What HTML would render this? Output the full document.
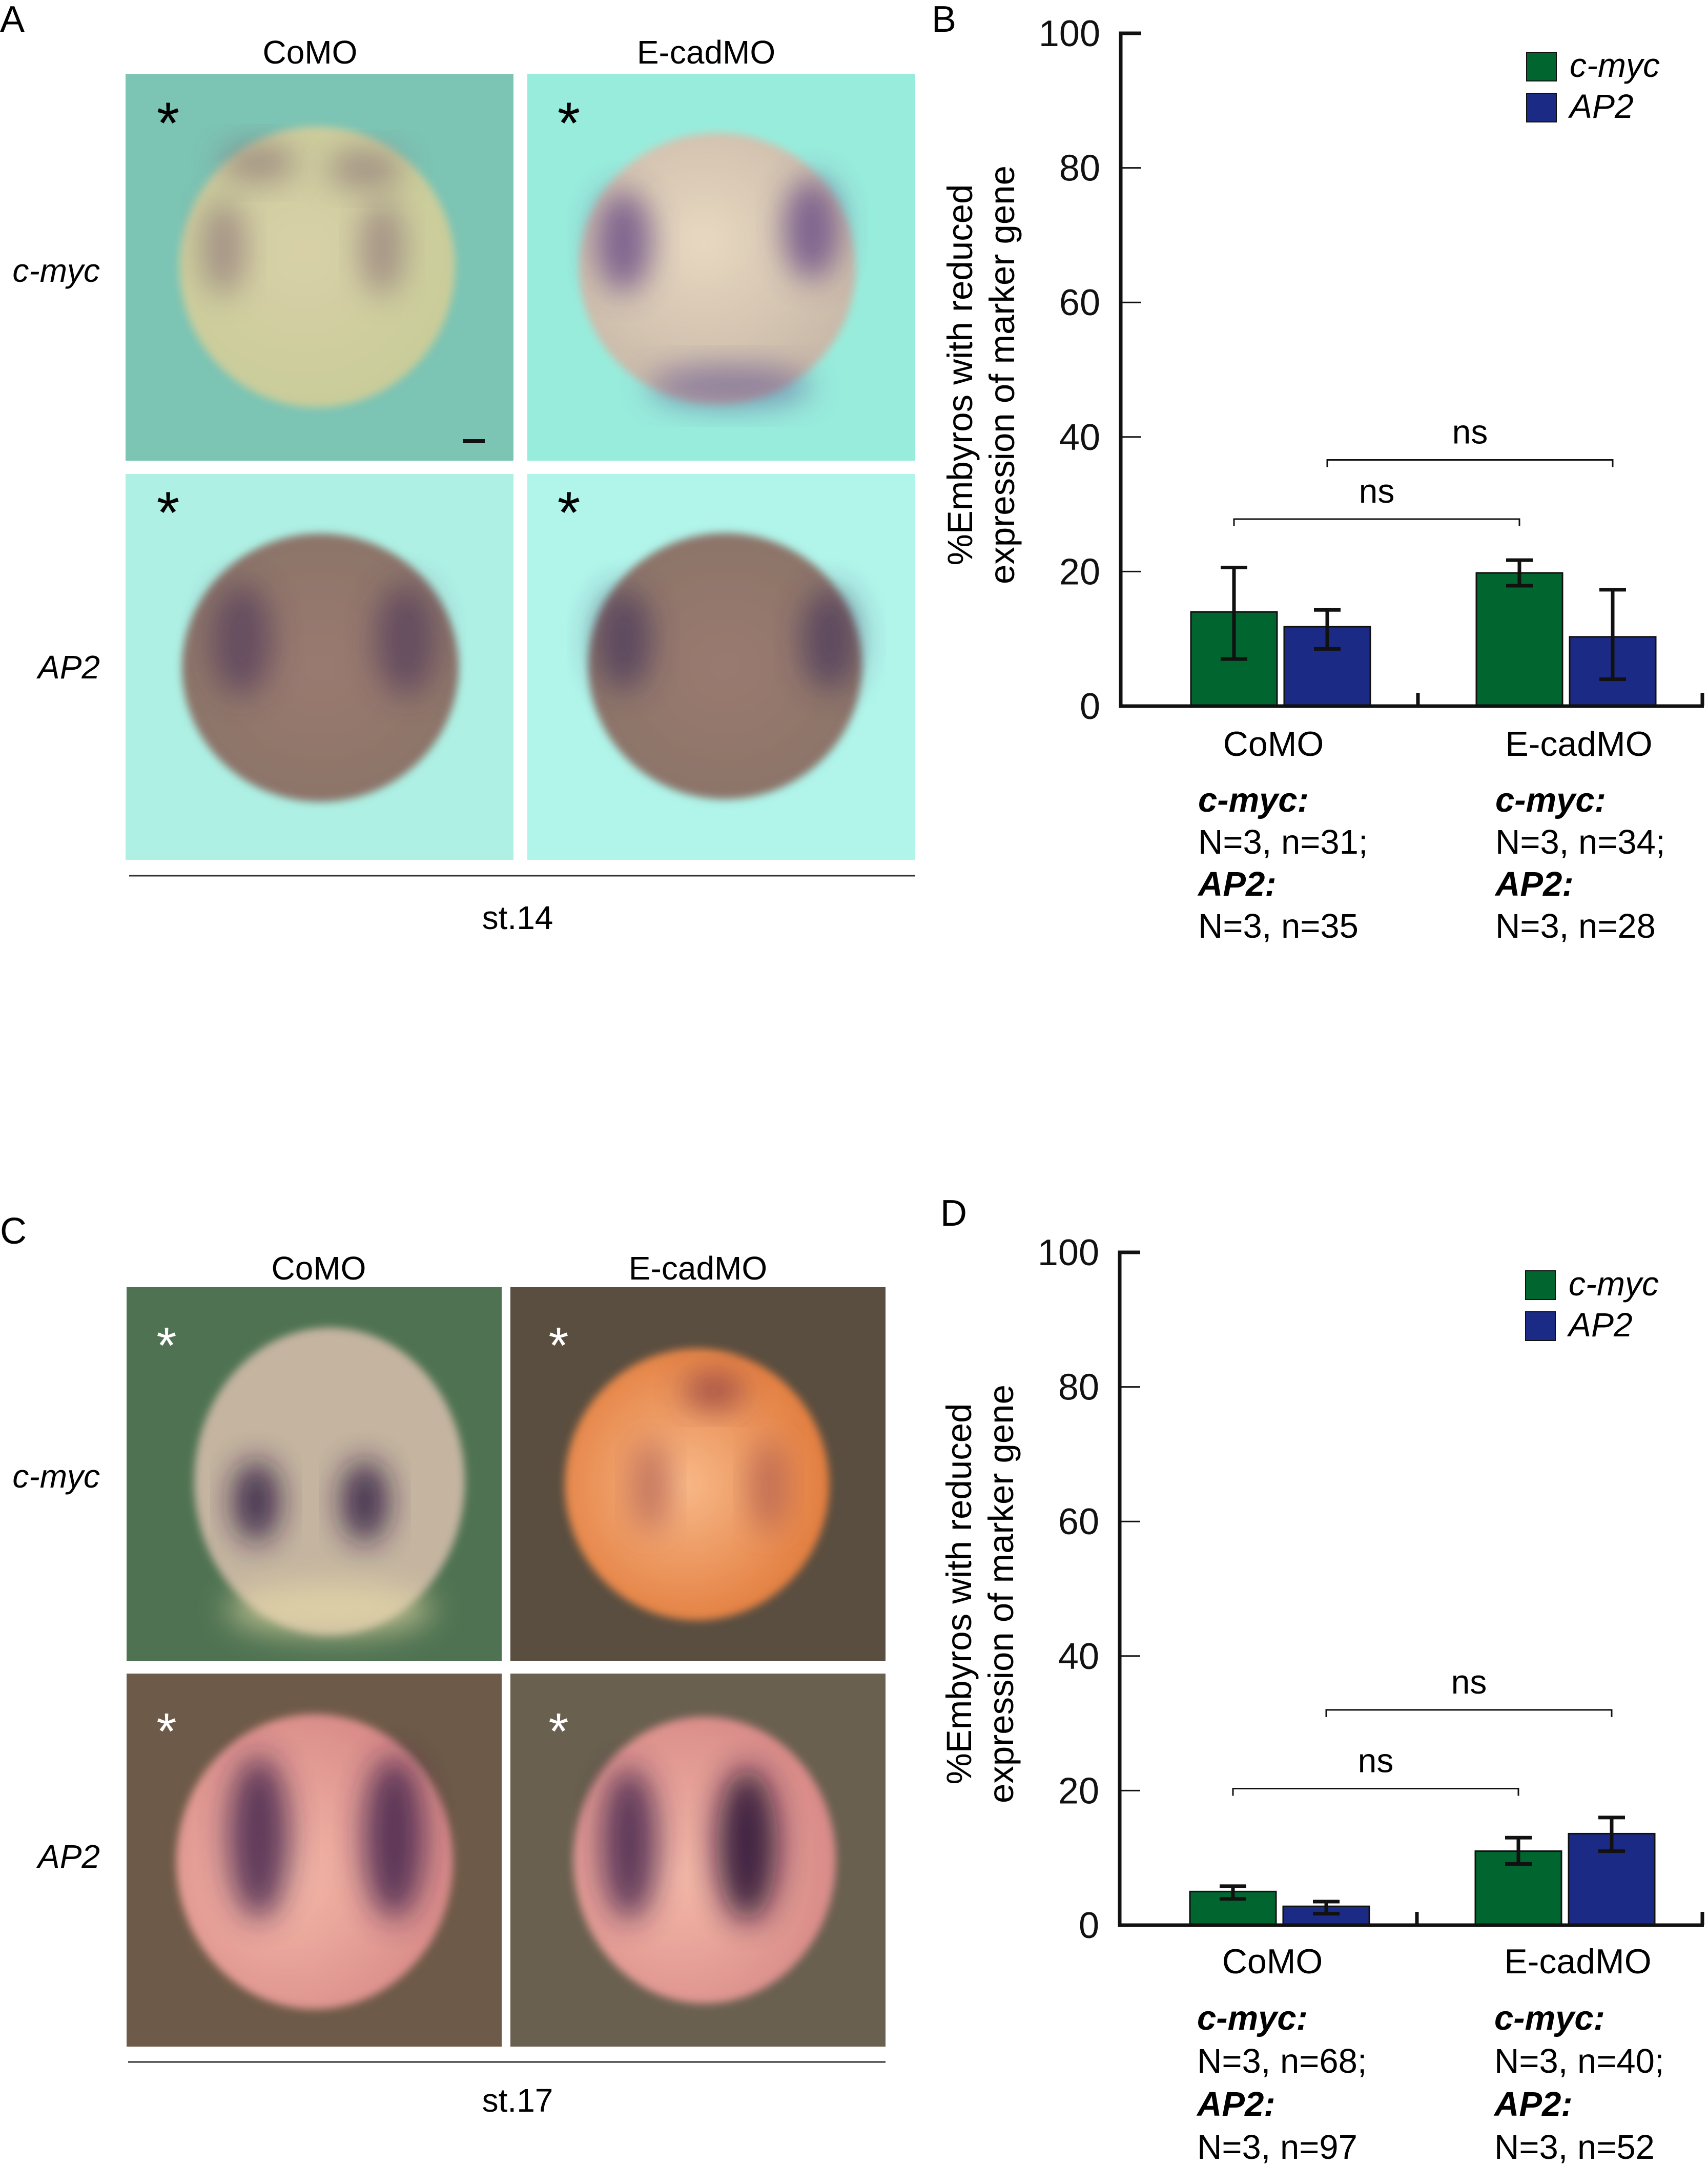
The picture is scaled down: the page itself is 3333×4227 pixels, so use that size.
<!DOCTYPE html>
<html><head><meta charset="utf-8"><style>
html,body{margin:0;padding:0;background:#fff}
svg{display:block}
text{font-family:"Liberation Sans",sans-serif}
</style></head><body>
<svg id="fig" width="3333" height="4227" viewBox="0 0 3333 4227" xmlns="http://www.w3.org/2000/svg">
<defs>
<filter id="b1" x="-50%" y="-50%" width="200%" height="200%"><feGaussianBlur stdDeviation="30"/></filter>
<filter id="b2" x="-20%" y="-20%" width="140%" height="140%"><feGaussianBlur stdDeviation="8"/></filter>
<radialGradient id="gA1" cx="0.45" cy="0.45" r="0.6"><stop offset="0" stop-color="#d8d0a8"/><stop offset="1" stop-color="#c8cc98"/></radialGradient>
<radialGradient id="gA2" cx="0.45" cy="0.4" r="0.6"><stop offset="0" stop-color="#e8d8c0"/><stop offset="1" stop-color="#c8b8a8"/></radialGradient>
<radialGradient id="gA3" cx="0.5" cy="0.5" r="0.6"><stop offset="0" stop-color="#9a7a70"/><stop offset="1" stop-color="#8a7468"/></radialGradient>
<radialGradient id="gC2" cx="0.45" cy="0.5" r="0.6"><stop offset="0" stop-color="#f8b888"/><stop offset="1" stop-color="#e07838"/></radialGradient>
<radialGradient id="gC3" cx="0.4" cy="0.55" r="0.6"><stop offset="0" stop-color="#f4b8a8"/><stop offset="1" stop-color="#d88a88"/></radialGradient>
</defs>

<!-- Panel A -->
<g>
<text x="0" y="62" font-size="72">A</text>
<text x="605" y="124" font-size="64" text-anchor="middle">CoMO</text>
<text x="1378" y="124" font-size="64" text-anchor="middle">E-cadMO</text>
<text x="195" y="550" font-size="64" font-style="italic" text-anchor="end">c-myc</text>
<text x="195" y="1324" font-size="64" font-style="italic" text-anchor="end">AP2</text>
<g>
<rect x="245" y="144" width="757" height="755" fill="#7cc4b4"/>
<ellipse cx="619" cy="521" rx="269" ry="274" fill="url(#gA1)" filter="url(#b2)"/>
<ellipse cx="505" cy="318" rx="75" ry="38" fill="#7e6070" opacity="0.55" filter="url(#b1)"/>
<ellipse cx="712" cy="330" rx="75" ry="38" fill="#7e6070" opacity="0.55" filter="url(#b1)"/>
<ellipse cx="436" cy="483" rx="42" ry="95" fill="#7e6070" opacity="0.55" filter="url(#b1)"/>
<ellipse cx="746" cy="483" rx="42" ry="95" fill="#7e6070" opacity="0.55" filter="url(#b1)"/>
<rect x="903" y="857" width="43" height="8" fill="#111"/>
<text x="328" y="280" font-size="115" text-anchor="middle">*</text>
</g>
<g>
<rect x="1029" y="144" width="757" height="755" fill="#98ecdc"/>
<ellipse cx="1400" cy="524" rx="270" ry="265" fill="url(#gA2)" filter="url(#b2)"/>
<ellipse cx="1217" cy="471" rx="55" ry="100" fill="#5a3a80" opacity="0.7" filter="url(#b1)"/>
<ellipse cx="1584" cy="447" rx="55" ry="100" fill="#5a3a80" opacity="0.7" filter="url(#b1)"/>
<ellipse cx="1424" cy="753" rx="160" ry="40" fill="#5a4a90" opacity="0.55" filter="url(#b1)"/>
<text x="1110" y="280" font-size="115" text-anchor="middle">*</text>
</g>
<g>
<rect x="245" y="925" width="757" height="753" fill="#aef0e4"/>
<ellipse cx="625" cy="1303" rx="270" ry="262" fill="url(#gA3)" filter="url(#b2)"/>
<ellipse cx="471" cy="1248" rx="60" ry="110" fill="#4a3058" opacity="0.6" filter="url(#b1)"/>
<ellipse cx="792" cy="1248" rx="60" ry="110" fill="#4a3058" opacity="0.6" filter="url(#b1)"/>
<text x="328" y="1040" font-size="115" text-anchor="middle">*</text>
</g>
<g>
<rect x="1029" y="925" width="757" height="753" fill="#b0f4ea"/>
<ellipse cx="1415" cy="1300" rx="267" ry="260" fill="url(#gA3)" filter="url(#b2)"/>
<ellipse cx="1217" cy="1248" rx="55" ry="100" fill="#3a2a58" opacity="0.6" filter="url(#b1)"/>
<ellipse cx="1619" cy="1248" rx="55" ry="100" fill="#3a2a58" opacity="0.6" filter="url(#b1)"/>
<text x="1110" y="1040" font-size="115" text-anchor="middle">*</text>
</g>
<line x1="252" y1="1709" x2="1786" y2="1709" stroke="#333" stroke-width="3"/>
<text x="1010" y="1813" font-size="64" text-anchor="middle">st.14</text>
</g>

<!-- Panel C -->
<g>
<text x="0" y="2427" font-size="72">C</text>
<text x="622" y="2497" font-size="64" text-anchor="middle">CoMO</text>
<text x="1362" y="2497" font-size="64" text-anchor="middle">E-cadMO</text>
<text x="195" y="2903" font-size="64" font-style="italic" text-anchor="end">c-myc</text>
<text x="195" y="3645" font-size="64" font-style="italic" text-anchor="end">AP2</text>
<g>
<rect x="247" y="2512" width="732" height="729" fill="#4f7352"/>
<ellipse cx="643" cy="2891" rx="264" ry="300" fill="#c4b4a0" filter="url(#b2)"/>
<ellipse cx="500" cy="2930" rx="45" ry="80" fill="#2a1840" opacity="0.85" filter="url(#b1)"/>
<ellipse cx="712" cy="2930" rx="45" ry="80" fill="#2a1840" opacity="0.85" filter="url(#b1)"/>
<ellipse cx="643" cy="3140" rx="200" ry="50" fill="#e8dca8" opacity="0.7" filter="url(#b1)"/>
<text x="325" y="2660" font-size="100" fill="#fff" text-anchor="middle">*</text>
</g>
<g>
<rect x="996" y="2512" width="732" height="729" fill="#5a4e40"/>
<ellipse cx="1360" cy="2897" rx="258" ry="265" fill="url(#gC2)" filter="url(#b2)"/>
<ellipse cx="1393" cy="2715" rx="60" ry="35" fill="#803040" opacity="0.7" filter="url(#b1)"/>
<ellipse cx="1270" cy="2900" rx="35" ry="90" fill="#a05050" opacity="0.6" filter="url(#b1)"/>
<ellipse cx="1500" cy="2900" rx="35" ry="90" fill="#a05050" opacity="0.6" filter="url(#b1)"/>
<text x="1090" y="2660" font-size="100" fill="#fff" text-anchor="middle">*</text>
</g>
<g>
<rect x="247" y="3266" width="732" height="728" fill="#6e5a48"/>
<ellipse cx="614" cy="3633" rx="270" ry="288" fill="url(#gC3)" filter="url(#b2)"/>
<ellipse cx="505" cy="3586" rx="60" ry="160" fill="#3a1e48" opacity="0.8" filter="url(#b1)"/>
<ellipse cx="769" cy="3586" rx="60" ry="160" fill="#3a1e48" opacity="0.8" filter="url(#b1)"/>
<text x="325" y="3413" font-size="100" fill="#fff" text-anchor="middle">*</text>
</g>
<g>
<rect x="996" y="3266" width="732" height="728" fill="#6a6050"/>
<ellipse cx="1375" cy="3630" rx="256" ry="280" fill="url(#gC3)" filter="url(#b2)"/>
<ellipse cx="1228" cy="3598" rx="55" ry="150" fill="#3a1e48" opacity="0.8" filter="url(#b1)"/>
<ellipse cx="1458" cy="3600" rx="60" ry="150" fill="#200c30" opacity="0.85" filter="url(#b1)"/>
<text x="1090" y="3413" font-size="100" fill="#fff" text-anchor="middle">*</text>
</g>
<line x1="250" y1="4024" x2="1728" y2="4024" stroke="#333" stroke-width="3"/>
<text x="1010" y="4121" font-size="64" text-anchor="middle">st.17</text>
</g>

<g id="chartB"></g>
<g id="chartD"></g>
</svg>
<script>
const groups = ["CoMO", "E-cadMO"];
const seriesNames = ["c-myc", "AP2"];
const yTicks = [0, 20, 40, 60, 80, 100];
const bCmyc = [14.0, 19.8];
const bCmycLo = [7.0, 17.9];
const bCmycHi = [20.6, 21.7];
const bAp2 = [11.8, 10.3];
const bAp2Lo = [8.5, 4.0];
const bAp2Hi = [14.3, 17.3];
const bNsLow = 27.8;
const bNsHigh = 36.6;
const bNLines = [["N=3, n=31;", "N=3, n=35"], ["N=3, n=34;", "N=3, n=28"]];
const dCmyc = [5.0, 11.0];
const dCmycLo = [3.9, 9.1];
const dCmycHi = [5.8, 13.0];
const dAp2 = [2.8, 13.6];
const dAp2Lo = [1.7, 11.0];
const dAp2Hi = [3.5, 16.0];
const dNsLow = 20.3;
const dNsHigh = 32.0;
const dNLines = [["N=3, n=68;", "N=3, n=97"], ["N=3, n=40;", "N=3, n=52"]];

const NS = "http://www.w3.org/2000/svg";
function mk(parent, tag, attrs, text) {
  const e = document.createElementNS(NS, tag);
  for (const k in attrs) e.setAttribute(k, attrs[k]);
  if (text !== undefined) e.textContent = text;
  parent.appendChild(e);
  return e;
}
function drawChart(gid, cfg) {
  const g = document.getElementById(gid);
  const x0 = cfg.x0, yTop = cfg.yTop, yBot = cfg.yBot, xEnd = 3325;
  const y = v => yBot - (v / 100) * (yBot - yTop);
  const groupStart = [cfg.x0 + 137, cfg.x0 + 694];
  const bw = 168, gap = 14;
  const barX = (gi, si) => groupStart[gi] + si * (bw + gap);
  const COLORS = ["#00652e", "#1b2a84"];

  const lab = mk(g, "text", {x: cfg.labelX, y: cfg.labelY, "font-size": 72});
  lab.textContent = cfg.label;
  
  

  const vals = [cfg.c, cfg.a], los = [cfg.cLo, cfg.aLo], his = [cfg.cHi, cfg.aHi];
  for (let gi = 0; gi < groups.length; gi++) {
    for (let si = 0; si < 2; si++) {
      const bx = barX(gi, si), v = vals[si][gi];
      const r = mk(g, "rect", {x: bx, y: y(v), width: bw, height: yBot - y(v), fill: COLORS[si], stroke: "#111", "stroke-width": 3});
      
      
      const cx = bx + bw / 2, lo = y(los[si][gi]), hi = y(his[si][gi]);
      const eb = mk(g, "path", {d: `M${cx},${lo}V${hi}M${cx-26},${lo}H${cx+26}M${cx-26},${hi}H${cx+26}`, stroke: "#111", "stroke-width": 7, fill: "none"});
      
      
    }
  }
  const ax = mk(g, "path", {d: `M${x0+40},${yTop}H${x0}V${yBot}H${xEnd}M${x0+580},${yBot}V${yBot-26}M${xEnd-3},${yBot}V${yBot-26}`, stroke: "#111", "stroke-width": 7, fill: "none"});
  
  
  for (const t of yTicks) {
    const tk = mk(g, "line", {x1: x0, x2: x0 + 40, y1: y(t), y2: y(t), stroke: "#111", "stroke-width": 3});
    
    
    const tl = mk(g, "text", {x: x0 - 40, y: y(t) + 25, "font-size": 72, "text-anchor": "end", fill: "#111"}, String(t));
    
    
  }
  const yt = mk(g, "text", {transform: `translate(${x0-290},${(yTop+yBot)/2+10}) rotate(-90)`, "font-size": 69, "text-anchor": "middle"});
  
  
  mk(yt, "tspan", {x: 0, dy: 0}, "%Embyros with reduced");
  mk(yt, "tspan", {x: 0, dy: 82}, "expression of marker gene");
  for (let si = 0; si < 2; si++) {
    const ly = cfg.legY + si * 80;
    const ls = mk(g, "rect", {x: x0 + 792, y: ly, width: 58, height: 56, fill: COLORS[si], stroke: "#111", "stroke-width": 2});
    
    
    const lt = mk(g, "text", {x: x0 + 876, y: ly + 48, "font-size": 66, "font-style": "italic"}, seriesNames[si]);
    
    
  }
  const brk = [[barX(0,0)+bw/2, barX(1,0)+bw/2, cfg.nsLow], [barX(0,1)+bw/2, barX(1,1)+bw/2, cfg.nsHigh]];
  for (const b of brk) {
    const by = y(b[2]);
    const p = mk(g, "path", {d: `M${b[0]},${by+14}V${by}H${b[1]}V${by+14}`, stroke: "#111", "stroke-width": 3, fill: "none"});
    
    
    const t = mk(g, "text", {x: (b[0]+b[1])/2, y: by - 32, "font-size": 66, "text-anchor": "middle"}, "ns");
    
    
  }
  const catC = [x0 + 298, x0 + 894], nX = [x0 + 151, x0 + 731];
  for (let gi = 0; gi < 2; gi++) {
    const c = mk(g, "text", {x: catC[gi], y: yBot + cfg.catDy, "font-size": 68, "text-anchor": "middle"}, groups[gi]);
    
    
    const lines = [["c-myc:", true], [cfg.n[gi][0], false], ["AP2:", true], [cfg.n[gi][1], false]];
    lines.forEach((l, i) => {
      const t = mk(g, "text", {x: nX[gi], y: yBot + cfg.nDy + i * cfg.nStep, "font-size": 67}, l[0]);
      if (l[1]) { t.setAttribute("font-weight", "bold"); t.setAttribute("font-style", "italic"); }
      
      
    });
  }
}
drawChart("chartB", {x0: 2187, yTop: 65, yBot: 1378, label: "B", labelX: 1818, labelY: 62, legY: 102, catDy: 97, nDy: 206, nStep: 82,
  c: bCmyc, cLo: bCmycLo, cHi: bCmycHi, a: bAp2, aLo: bAp2Lo, aHi: bAp2Hi, nsLow: bNsLow, nsHigh: bNsHigh, n: bNLines});
drawChart("chartD", {x0: 2185, yTop: 2444, yBot: 3757, label: "D", labelX: 1835, labelY: 2392, legY: 2480, catDy: 94, nDy: 204, nStep: 84,
  c: dCmyc, cLo: dCmycLo, cHi: dCmycHi, a: dAp2, aLo: dAp2Lo, aHi: dAp2Hi, nsLow: dNsLow, nsHigh: dNsHigh, n: dNLines});
</script>
</body></html>
